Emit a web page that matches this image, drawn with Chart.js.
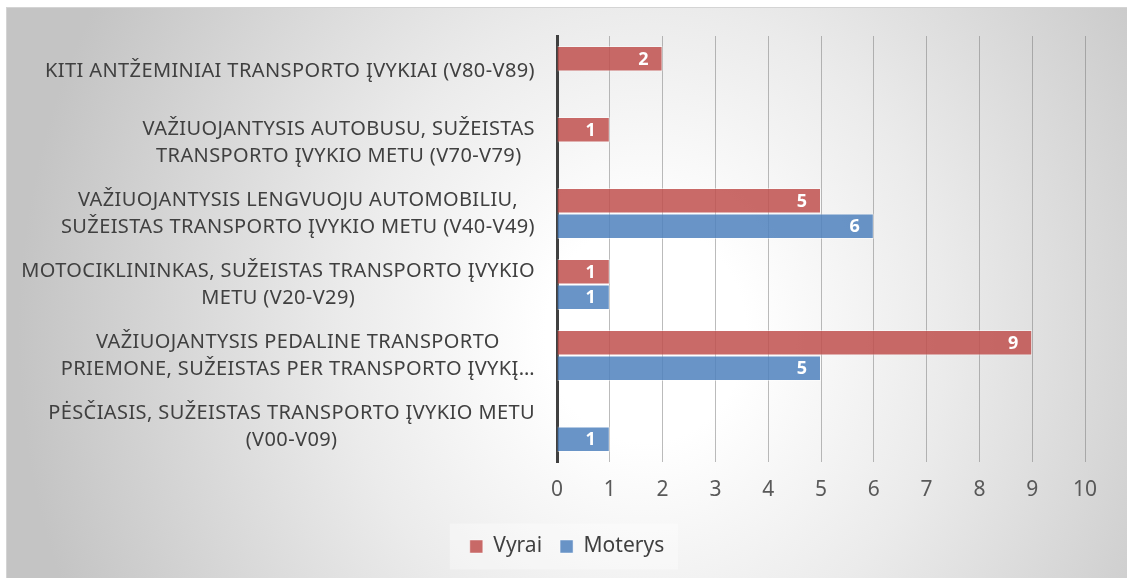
<!DOCTYPE html>
<html lang="lt">
<head>
  <meta charset="UTF-8">
  <title>Transporto įvykiai</title>
  <script src="https://cdn.jsdelivr.net/npm/chart.js"></script>
  <style>
    html, body {
      margin: 0;
      padding: 0;
      background: #ffffff;
      overflow: hidden;
    }
    .box {
      position: absolute;
      left: 6px;
      top: 7px;
      width: 1120px;
      height: 570px;
      border-left: 1px solid #d4d4d4;
      border-top: 1px solid #d4d4d4;
      background: radial-gradient(ellipse 56% 120% at 57% 57%, #ffffff 16%, #ebebeb 48%, #c4c4c4 100%);
    }
    canvas { display: block; }
  </style>
</head>
<body>
  <div class="box">
    <canvas id="chart" width="1120" height="570"></canvas>
  </div>

  <script>
    // kategorijos iš viršaus į apačią
    const categories = [
      ['KITI ANTŽEMINIAI TRANSPORTO ĮVYKIAI (V80-V89)'],
      ['VAŽIUOJANTYSIS AUTOBUSU, SUŽEISTAS', 'TRANSPORTO ĮVYKIO METU (V70-V79)'],
      ['VAŽIUOJANTYSIS LENGVUOJU AUTOMOBILIU,', 'SUŽEISTAS TRANSPORTO ĮVYKIO METU (V40-V49)'],
      ['MOTOCIKLININKAS, SUŽEISTAS TRANSPORTO ĮVYKIO', 'METU (V20-V29)'],
      ['VAŽIUOJANTYSIS PEDALINE TRANSPORTO', 'PRIEMONE, SUŽEISTAS PER TRANSPORTO ĮVYKĮ…'],
      ['PĖSČIASIS, SUŽEISTAS TRANSPORTO ĮVYKIO METU', '(V00-V09)']
    ];
    const vyrai   = [2, 1, 5, 1, 9, null];
    const moterys = [null, null, 6, 1, 5, 1];
    const xTicks  = [0, 1, 2, 3, 4, 5, 6, 7, 8, 9, 10];

    const FONT = '"Noto Sans", sans-serif';
    const PLOT_BOTTOM = 454;
    const PAD_BOTTOM = 11;

    // kategorijų pavadinimai: eilutės centruojamos bloko viduje
    const categoryLabels = {
      id: 'categoryLabels',
      afterDraw(chart) {
        const ctx = chart.ctx;
        const y = chart.scales.y;
        const right = chart.chartArea.left - 22;
        const lh = 27;
        ctx.save();
        ctx.font = '20px ' + FONT;
        ctx.letterSpacing = '0.4px';
        ctx.fillStyle = '#404040';
        ctx.textAlign = 'center';
        ctx.textBaseline = 'middle';
        categories.forEach((lines, i) => {
          const cy = y.getPixelForValue(i);
          const w = Math.max(...lines.map(l => ctx.measureText(l).width));
          const cx = right - w / 2;
          lines.forEach((l, j) => {
            ctx.fillText(l, cx, cy + (j - (lines.length - 1) / 2) * lh);
          });
        });
        ctx.restore();
      }
    };

    // reikšmės baltu šriftu juostos gale
    const barValues = {
      id: 'barValues',
      afterDatasetsDraw(chart) {
        const ctx = chart.ctx;
        ctx.save();
        ctx.font = 'bold 18px ' + FONT;
        ctx.fillStyle = '#ffffff';
        ctx.textAlign = 'right';
        ctx.textBaseline = 'middle';
        chart.data.datasets.forEach((ds, di) => {
          chart.getDatasetMeta(di).data.forEach((bar, i) => {
            if (ds.data[i] == null) return;
            ctx.fillText(String(ds.data[i]), bar.x - 14, bar.y + 1);
          });
        });
        ctx.restore();
      }
    };

    // šviesesnis legendos fonas
    const legendBg = {
      id: 'legendBg',
      beforeDraw(chart) {
        const lg = chart.legend;
        if (!lg || !lg.legendHitBoxes || !lg.legendHitBoxes.length) return;
        const hb = lg.legendHitBoxes;
        const first = hb[0], last = hb[hb.length - 1];
        const cy = first.top + first.height / 2;
        const ctx = chart.ctx;
        ctx.save();
        ctx.fillStyle = 'rgba(255,255,255,0.35)';
        ctx.fillRect(first.left - 20, cy - 23, last.left + last.width - first.left + 34, 46);
        ctx.restore();
      }
    };

    new Chart(document.getElementById('chart'), {
      type: 'bar',
      data: {
        labels: categories.map(c => c.join(' ')),
        datasets: [
          {
            label: 'Vyrai',
            data: vyrai,
            backgroundColor: 'rgba(192,80,77,0.85)',
            borderColor: 'rgba(255,255,255,0.45)',
            borderWidth: 1
          },
          {
            label: 'Moterys',
            data: moterys,
            backgroundColor: 'rgba(79,129,189,0.85)',
            borderColor: 'rgba(255,255,255,0.45)',
            borderWidth: 1
          }
        ]
      },
      options: {
        indexAxis: 'y',
        responsive: false,
        animation: false,
        datasets: {
          bar: { categoryPercentage: 0.72, barPercentage: 1.0 }
        },
        layout: { padding: { top: 28, right: 42, bottom: PAD_BOTTOM, left: 42 } },
        plugins: {
          tooltip: { enabled: false },
          legend: {
            position: 'bottom',
            labels: {
              boxWidth: 13,
              boxHeight: 13,
              padding: 18,
              color: '#404040',
              font: { family: FONT, size: 21 }
            }
          }
        },
        scales: {
          x: {
            min: 0,
            max: 10,
            afterBuildTicks: s => { s.ticks = xTicks.map(v => ({ value: v })); },
            // ašies aukštis: tarp braižymo srities apačios ir legendos
            afterFit: s => {
              const lg = s.chart.legend;
              const lgH = lg && lg.height ? lg.height : 52;
              s.height = s.chart.height - PAD_BOTTOM - lgH - PLOT_BOTTOM;
            },
            grid: {
              color: 'rgba(120,120,120,0.5)',
              lineWidth: 1,
              drawTicks: false
            },
            border: { display: false },
            ticks: {
              padding: 15,
              color: '#595959',
              font: { family: FONT, size: 21 }
            }
          },
          y: {
            afterFit: s => { s.width = 508; },
            grid: { display: false },
            border: { display: true, color: '#404040', width: 3 },
            ticks: { display: false }
          }
        }
      },
      plugins: [categoryLabels, barValues, legendBg]
    });
  </script>
</body>
</html>
